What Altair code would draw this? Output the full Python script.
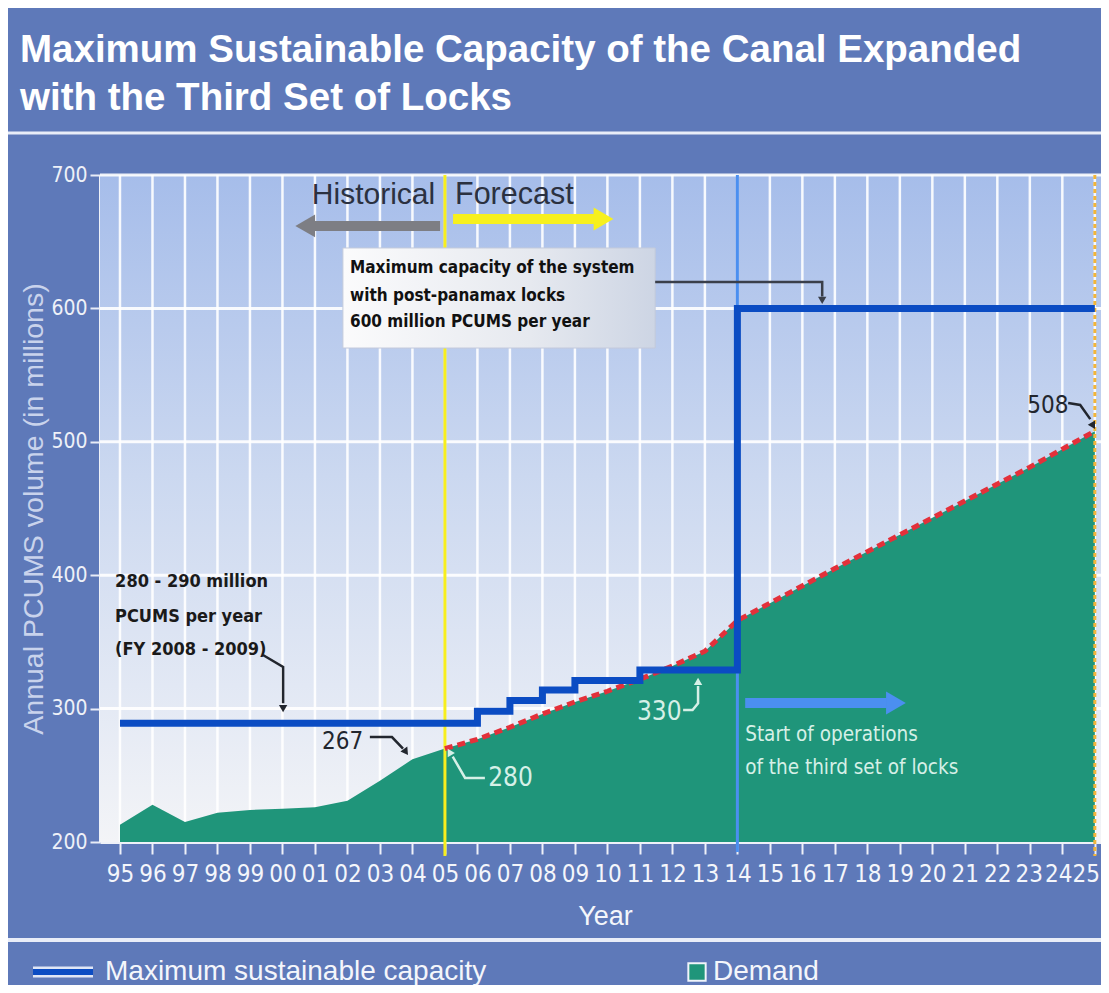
import altair as alt
import pandas as pd

# ---------------- data ----------------
HIST_YEARS = [1995, 1996, 1997, 1998, 1999, 2000, 2001, 2002, 2003, 2004, 2005]
HIST_DEMAND = [213, 228, 215, 222, 224, 225, 226, 231, 246, 262, 269]

FC_YEARS = [2005, 2006, 2007, 2008, 2009, 2010, 2011, 2012, 2013, 2014, 2017, 2020, 2023, 2025]
FC_DEMAND = [270, 277, 286, 296, 305, 313, 322, 332, 343, 366, 405, 443, 481, 508]

CAP_YEARS = [1995, 2006, 2007, 2008, 2009, 2011, 2014, 2025]
CAP_VALUES = [289, 298, 306, 314, 321, 329, 600, 600]

TICK_YEARS = list(range(1995, 2026))
TICK_LABELS = ["95", "96", "97", "98", "99", "00", "01", "02", "03", "04", "05",
               "06", "07", "08", "09", "10", "11", "12", "13", "14", "15", "16",
               "17", "18", "19", "20", "21", "22", "23", "24", "25"]
Y_TICKS = [200, 300, 400, 500, 600, 700]
GRID_Y = [300, 400, 500, 600, 700]

TITLE_1 = "Maximum Sustainable Capacity of the Canal Expanded"
TITLE_2 = "with the Third Set of Locks"

# ---------------- layout / style ----------------
W, H = 1001, 667
X_DOMAIN = [1994.385, 2025.19]
Y_DOMAIN = [200, 700]
BG = "#5e79b9"
GREEN = "#1f957a"
CAP_BLUE = "#0b4cc3"
SANS = "Liberation Sans, Arial, sans-serif"
NARROW = "DejaVu Sans Condensed, Liberation Sans Narrow, sans-serif"
LIGHT_TXT = "#d6f0e7"
DARK_TXT = "#22262e"

label_expr = "[" + ",".join("'%s'" % s for s in TICK_LABELS) + "][datum.value - 1995]"
# the last labels are nudged left so that "25" stays inside the canvas
label_offset = {"condition": [{"test": "datum.value == 2025", "value": -9},
                              {"test": "datum.value == 2024", "value": -4},
                              {"test": "datum.value == 2023", "value": -1}],
                "value": 0}

xaxis = alt.Axis(values=TICK_YEARS, labelExpr=label_expr, title="Year", grid=False,
                 domainColor="#eef1f8", domainWidth=3, tickColor="#eef1f8", tickWidth=2,
                 tickSize=12, labelFont=NARROW, labelFontSize=24, labelColor="#f4f6fb",
                 labelPadding=8, labelOverlap=False, labelFlush=False,
                 labelOffset=label_offset,
                 titleFont=SANS, titleFontSize=27, titleColor="#f4f6fb",
                 titleFontWeight="normal", titleX=505, titleY=74,
                 titleBaseline="middle", titleAlign="center")
yaxis = alt.Axis(values=Y_TICKS, title="Annual PCUMS volume (in millions)", grid=False,
                 domainColor="#eef1f8", domainWidth=3, tickColor="#e8ecf6", tickWidth=2,
                 tickSize=10, labelFont=NARROW, labelFontSize=21, labelColor="#eef1f8",
                 labelPadding=3, titleFont=SANS, titleFontSize=28.5, titleColor="#c9d3ec",
                 titleFontWeight="normal", titleX=-67, titleY=H / 2, titleAngle=270,
                 titleAlign="center", titleBaseline="middle")

X = alt.X("year:Q", scale=alt.Scale(domain=X_DOMAIN, nice=False, zero=False), axis=xaxis)
Y = alt.Y("value:Q", scale=alt.Scale(domain=Y_DOMAIN, nice=False, zero=False), axis=yaxis)

one = alt.Data(values=[{"t": 0}])


def px_text(txt, x, y, size, color, weight="normal", font=SANS, align="left", baseline="middle"):
    return alt.Chart(alt.Data(values=[{"t": txt}])).mark_text(
        align=align, baseline=baseline, fontSize=size, color=color, fontWeight=weight, font=font
    ).encode(x=alt.value(x), y=alt.value(y), text="t:N")


def data_text(rows, size, color, weight="normal", font=SANS, align="left"):
    df = pd.DataFrame(rows, columns=["year", "value", "t"])
    return alt.Chart(df).mark_text(
        align=align, baseline="middle", fontSize=size, color=color, fontWeight=weight, font=font
    ).encode(x=X, y=Y, text="t:N")


# ---------------- background ----------------
grad = alt.Gradient(gradient="linear",
                    stops=[alt.GradientStop(color="#a6bdea", offset=0),
                           alt.GradientStop(color="#cbd8f0", offset=0.45),
                           alt.GradientStop(color="#f3f4f7", offset=1)],
                    x1=0, x2=0, y1=0, y2=1)
bg_rect = alt.Chart(one).mark_rect(fill=grad).encode(
    x=alt.value(0), x2=alt.value(W), y=alt.value(0), y2=alt.value(H))

vgrid = alt.Chart(pd.DataFrame({"year": TICK_YEARS})).mark_rule(
    color="#ffffff", strokeWidth=2.5, opacity=0.9).encode(x=X, y=alt.value(0), y2=alt.value(H))
hgrid = alt.Chart(pd.DataFrame({"value": GRID_Y})).mark_rule(
    color="#ffffff", strokeWidth=3, opacity=0.9).encode(y=Y, x=alt.value(0), x2=alt.value(W))

# ---------------- demand ----------------
demand_df = pd.DataFrame({"year": HIST_YEARS[:-1] + FC_YEARS,
                          "value": HIST_DEMAND[:-1] + FC_DEMAND})
area = alt.Chart(demand_df).mark_area(color=GREEN, opacity=1).encode(x=X, y=Y, y2=alt.datum(200))

fc_df = pd.DataFrame({"year": FC_YEARS, "value": FC_DEMAND})
fc_line = alt.Chart(fc_df).mark_line(color="#e3303a", strokeDash=[8, 5], strokeWidth=5).encode(x=X, y=Y)

cap_df = pd.DataFrame({"year": CAP_YEARS, "value": CAP_VALUES})
cap_line = alt.Chart(cap_df).mark_line(color=CAP_BLUE, strokeWidth=7, interpolate="step-after").encode(x=X, y=Y)

# ---------------- vertical markers ----------------
yellow = alt.Chart(pd.DataFrame({"year": [2005]})).mark_rule(color="#f7ee1e", strokeWidth=3).encode(
    x=X, y=alt.value(0), y2=alt.value(H + 14))
bluev = alt.Chart(pd.DataFrame({"year": [2014]})).mark_rule(color="#4b8ff0", strokeWidth=3).encode(
    x=X, y=alt.value(0), y2=alt.value(H + 10))
orange = alt.Chart(pd.DataFrame({"year": [2025]})).mark_rule(color="#f2b53a", strokeWidth=3,
                                                            strokeDash=[4, 3]).encode(
    x=X, y=alt.value(0), y2=alt.value(H + 14))

# ---------------- arrows ----------------
thick = pd.DataFrame([
    ("hist", 0, 2004.85, 661.8, "#7d7e84"), ("hist", 1, 2000.95, 661.8, "#7d7e84"),
    ("fc", 0, 2005.25, 667.0, "#f7f01e"), ("fc", 1, 2009.60, 667.0, "#f7f01e"),
    ("ops", 0, 2014.24, 304.2, "#4b8ff0"), ("ops", 1, 2018.60, 304.2, "#4b8ff0"),
], columns=["id", "o", "year", "value", "c"])
thick_lines = alt.Chart(thick).mark_line(strokeWidth=10, strokeCap="butt").encode(
    x=X, y=Y, detail="id:N", order="o:Q", color=alt.Color("c:N", scale=None))

thin = pd.DataFrame([
    ("box", 0, 2011.47, 619.8, "#3a3f4a"), ("box", 1, 2016.61, 619.8, "#3a3f4a"), ("box", 2, 2016.61, 609.0, "#3a3f4a"),
    ("fy", 0, 1999.40, 340.2, DARK_TXT), ("fy", 1, 2000.02, 331.2, DARK_TXT), ("fy", 2, 2000.02, 304.0, DARK_TXT),
    ("a267", 0, 2002.69, 278.7, DARK_TXT), ("a267", 1, 2003.37, 278.7, DARK_TXT), ("a267", 2, 2003.71, 270.0, DARK_TXT),
    ("a280", 0, 2006.23, 248.0, LIGHT_TXT), ("a280", 1, 2005.62, 248.0, LIGHT_TXT), ("a280", 2, 2005.24, 264.0, LIGHT_TXT),
    ("a330", 0, 2012.33, 299.0, LIGHT_TXT), ("a330", 1, 2012.62, 299.0, LIGHT_TXT), ("a330", 2, 2012.79, 304.0, LIGHT_TXT),
    ("a330", 3, 2012.79, 317.0, LIGHT_TXT),
    ("a508", 0, 2024.18, 529.1, DARK_TXT), ("a508", 1, 2024.55, 527.6, DARK_TXT), ("a508", 2, 2024.86, 517.0, DARK_TXT),
], columns=["id", "o", "year", "value", "c"])
thin_lines = alt.Chart(thin).mark_line(strokeWidth=2.5).encode(
    x=X, y=Y, detail="id:N", order="o:Q", color=alt.Color("c:N", scale=None))

heads = pd.DataFrame([
    (2000.70, 661.8, "triangle-left", 0, "#7d7e84", 520),
    (2009.88, 667.0, "triangle-right", 0, "#f7f01e", 520),
    (2018.88, 304.2, "triangle-right", 0, "#4b8ff0", 520),
    (2016.61, 606.0, "triangle-down", 0, "#3a3f4a", 70),
    (2000.02, 300.0, "triangle-down", 0, DARK_TXT, 70),
    (2003.80, 267.5, "triangle-up", 145, DARK_TXT, 70),
    (2005.14, 267.5, "triangle-up", 330, LIGHT_TXT, 70),
    (2012.79, 320.5, "triangle-up", 0, LIGHT_TXT, 70),
    (2024.95, 512.0, "triangle-up", 150, DARK_TXT, 70),
], columns=["year", "value", "shape", "ang", "c", "s"])
head_marks = alt.Chart(heads).mark_point(filled=True, opacity=1, strokeWidth=0).encode(
    x=X, y=Y, shape=alt.Shape("shape:N", scale=None), angle=alt.Angle("ang:Q", scale=None),
    color=alt.Color("c:N", scale=None), size=alt.Size("s:Q", scale=None))

# ---------------- annotation box ----------------
box_grad = alt.Gradient(gradient="linear",
                        stops=[alt.GradientStop(color="#fbfbfc", offset=0),
                               alt.GradientStop(color="#e6e9ef", offset=0.6),
                               alt.GradientStop(color="#cdd5e4", offset=1)],
                        x1=0, x2=1, y1=0, y2=0)
box = alt.Chart(pd.DataFrame({"year": [2001.86], "year2": [2011.47],
                              "value": [645.3], "value2": [570.3]})).mark_rect(
    fill=box_grad, stroke="#c3cadb", strokeWidth=1).encode(
    x=X, x2="year2:Q", y=Y, y2="value2:Q")

# ---------------- texts ----------------
t_hist = data_text([(2004.70, 685, "Historical")], 30, "#2b3140", align="right")
t_fc = data_text([(2005.31, 685, "Forecast")], 30.5, "#2b3140")
t_box = data_text([(2002.08, 630.3, "Maximum capacity of the system"),
                   (2002.08, 609.3, "with post-panamax locks"),
                   (2002.08, 589.8, "600 million PCUMS per year")], 17, "#111111", weight="bold", font=NARROW)
t_fy = data_text([(1994.85, 394.9, "280 - 290 million"),
                  (1994.85, 368.7, "PCUMS per year"),
                  (1994.85, 344.0, "(FY 2008 - 2009)")], 18, "#1a1a1a", weight="bold", font=NARROW)
t_dark = data_text([(2001.22, 275.0, "267"), (2022.92, 526.8, "508")], 24, DARK_TXT, font=NARROW)
t_light = data_text([(2006.33, 248.0, "280"), (2010.91, 297.5, "330")], 26, LIGHT_TXT, font=NARROW)
t_ops = data_text([(2014.24, 280.2, "Start of operations"),
                   (2014.24, 255.5, "of the third set of locks")], 20.5, LIGHT_TXT, font=NARROW)

# ---------------- header / legend (pixel positioned) ----------------
title1 = px_text(TITLE_1, -80, -113, 38.5, "#ffffff", weight="bold", baseline="alphabetic")
title2 = px_text(TITLE_2, -80, -65, 38.5, "#ffffff", weight="bold", baseline="alphabetic")
hline_top = alt.Chart(one).mark_rule(color="#e9edf8", strokeWidth=3).encode(
    x=alt.value(-92), x2=alt.value(W), y=alt.value(-42))
hline_bot = alt.Chart(one).mark_rule(color="#e9edf8", strokeWidth=4).encode(
    x=alt.value(-92), x2=alt.value(W), y=alt.value(765))
leg_line_w = alt.Chart(one).mark_rule(color="#dfe6f6", strokeWidth=11).encode(
    x=alt.value(-67), x2=alt.value(-7), y=alt.value(797))
leg_line = alt.Chart(one).mark_rule(color=CAP_BLUE, strokeWidth=6).encode(
    x=alt.value(-67), x2=alt.value(-7), y=alt.value(797))
leg_txt1 = px_text("Maximum sustainable capacity", 5, 797, 28, "#f4f6fb")
leg_sq = alt.Chart(one).mark_square(size=300, fill=GREEN, stroke="#f0f4fa", strokeWidth=2, opacity=1).encode(
    x=alt.value(597), y=alt.value(797))
leg_txt2 = px_text("Demand", 613, 797, 28, "#f4f6fb")

chart = alt.layer(
    bg_rect, vgrid, hgrid, area, yellow, bluev, orange, fc_line, cap_line,
    box, thick_lines, thin_lines, head_marks,
    t_hist, t_fc, t_box, t_fy, t_dark, t_light, t_ops,
    title1, title2, hline_top, hline_bot, leg_line_w, leg_line, leg_txt1, leg_sq, leg_txt2,
).properties(
    width=W, height=H,
    autosize=alt.AutoSizeParams(type="none"),
    padding={"left": 92, "top": 167, "right": 0, "bottom": 143},
).configure(background=BG).configure_view(strokeWidth=0)

chart.save("out.html", embed_options={"renderer": "svg", "actions": False})
